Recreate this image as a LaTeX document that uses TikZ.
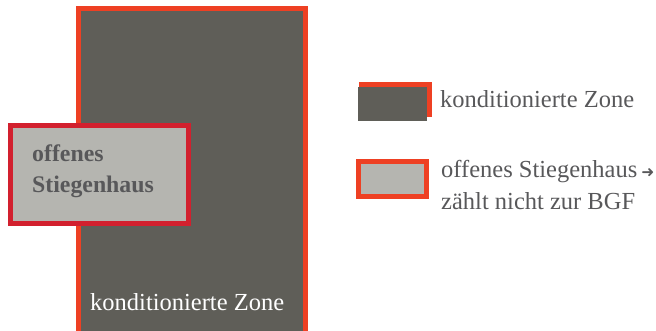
\documentclass[tikz,border=0pt]{standalone}
\usepackage{fontspec}
\setmainfont{Liberation Serif}
\newfontfamily\arrowfont{DejaVu Sans}
\definecolor{zonegray}{HTML}{5F5E58}
\definecolor{stairgray}{HTML}{B5B5B0}
\definecolor{zoneorange}{HTML}{EE4023}
\definecolor{stairred}{HTML}{D2202E}
\definecolor{txtgray}{HTML}{58585A}
\begin{document}
\begin{tikzpicture}[x=1pt,y=-1pt,
  lbl/.style={anchor=base west,inner sep=0pt,font=\fontsize{24.5}{31}\selectfont,text=txtgray},
  boldlbl/.style={anchor=base west,inner sep=0pt,font=\fontsize{23.8}{31}\selectfont\bfseries,text=txtgray}]
\useasboundingbox (0,0) rectangle (656,331);
\clip (0,0) rectangle (656,331);
% conditioned zone
\draw[line width=5pt,draw=zoneorange,fill=zonegray] (78.5,8.5) rectangle (305.5,345);
\node[lbl,text=white] (zonelbl) at (90,310) {konditionierte Zone};
% open stairwell
\draw[line width=5pt,draw=stairred,fill=stairgray] (10.5,125.5) rectangle (188.5,223.5);
\node[boldlbl] (stairlbla) at (32,162) {offenes};
\node[boldlbl] (stairlblb) at (32,193) {Stiegenhaus};
% legend 1
\fill[zoneorange] (359,82) rectangle (432,117);
\fill[zonegray] (358,87) rectangle (427,121);
\node[lbl] (leg1) at (440,108) {konditionierte Zone};
% legend 2
\draw[line width=5pt,draw=zoneorange,fill=stairgray] (358.5,161.5) rectangle (426.5,196.5);
\node[lbl] (leg2a) at (441,178) {offenes Stiegenhaus\hspace{4pt}{\arrowfont\fontsize{15.5}{15.5}\selectfont ➜}};
\node[lbl] (leg2b) at (441,210) {zählt nicht zur BGF};
\end{tikzpicture}
\end{document}
